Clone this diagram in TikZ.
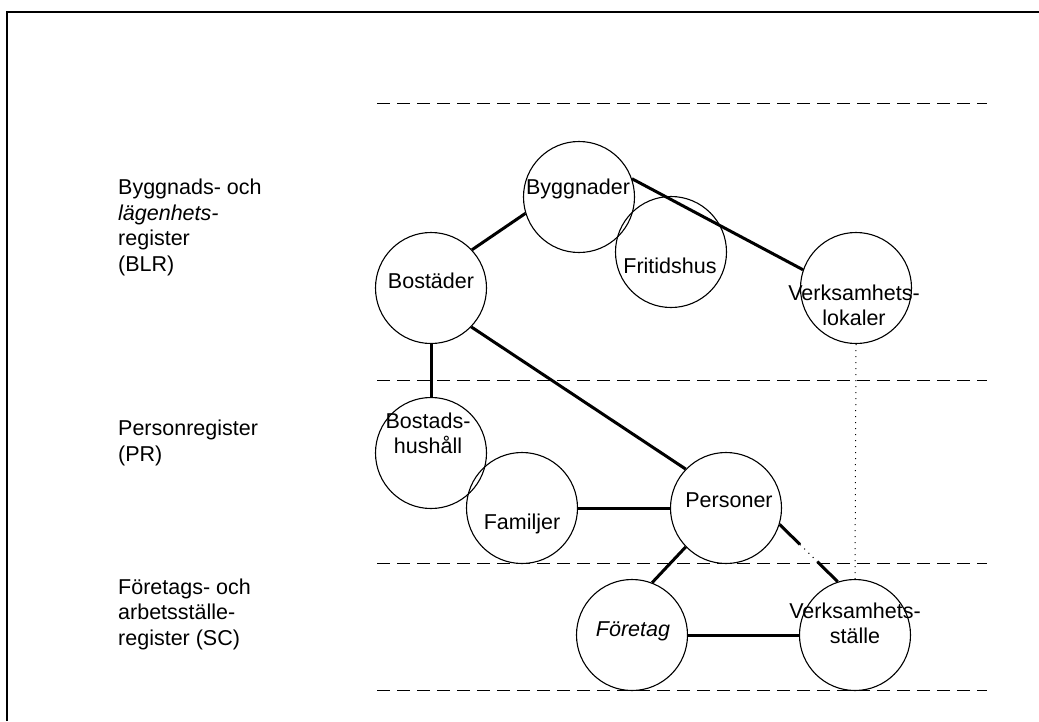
\documentclass[tikz,border=0pt]{standalone}
\usepackage{fontspec}
\setmainfont{Liberation Sans}
\usetikzlibrary{calc}

\tikzset{
  reg/.style={draw, circle, minimum size=111pt, inner sep=0pt, line width=1.1pt},
  lbl/.style={anchor=base, align=center, inner sep=0pt, font=\fontsize{21.5}{25}\selectfont},
  regname/.style={anchor=base west, align=left, inner sep=0pt, font=\fontsize{21.5}{25.5}\selectfont},
  regline/.style={line width=3pt},
  layerline/.style={line width=0.8pt, dash pattern=on 13pt off 7pt},
  dotline/.style={line width=1pt, dash pattern=on 1pt off 5pt}
}

\begin{document}
\begin{tikzpicture}[x=1pt, y=-1pt]
    \fill[white] (0,0) rectangle (1039,721);
    \useasboundingbox (0,0) rectangle (1039,721);
    % frame
    \draw[line width=1.4pt] (7,721) -- (7,12) -- (1039,12);
    \foreach \y in {103,380,563,690}
      \draw[layerline] (377,\y) -- (987,\y);

    % register names (base = last line)
    \node[regname] (blr) at (118,271) {Byggnads- och\\\textit{lägenhets-}\\register\\(BLR)};
    \node[regname] (pr) at (118,461) {Personregister\\(PR)};
    \node[regname] (sc) at (118,645) {Företags- och\\arbetsställe-\\register (SC)};

    % circles
    \node[reg] (bygg) at (579,197) {};
    \node[reg] (frit) at (671,252) {};
    \node[reg] (vlok) at (856,288) {};
    \node[reg] (bost) at (431,288) {};
    \node[reg] (hush) at (431,453) {};
    \node[reg] (fam) at (522,508) {};
    \node[reg] (pers) at (726,508) {};
    \node[reg] (fore) at (632,635) {};
    \node[reg] (vst) at (855,635) {};

    \node[lbl] (byggtxt) at (578,194) {Byggnader};
    \node[lbl] (frittxt) at (670,273) {Fritidshus};
    \node[lbl] (vloktxt) at (854,325) {Verksamhets-\\lokaler};
    \node[lbl] (bosttxt) at (431,288) {Bostäder};
    \node[lbl] (hushtxt) at (428,453) {Bostads-\\hushåll};
    \node[lbl] (famtxt) at (522,529) {Familjer};
    \node[lbl] (perstxt) at (729,507) {Personer};
    \node[lbl] (foretxt) at (633,636) {\textit{Företag}};
    \node[lbl] (vsttxt) at (855,643) {Verksamhets-\\ställe};

    % links
    \draw[regline] (bost.43) -- (bygg.197);
    \draw[regline] (bygg.19) -- (vlok.161);
    \draw[regline] (bost.316) -- (pers.136);
    \draw[regline] (bost.south) -- (hush.north);
    \draw[regline] (fam.east) -- (pers.west);
    \draw[regline] (pers.224) -- (fore.69);
    \draw[regline] (fore.east) -- (vst.west);
    \coordinate (gap1) at ($(pers.343)!0.35!(vst.108)$);
    \coordinate (gap2) at ($(pers.343)!0.65!(vst.108)$);
    \draw[regline] (pers.343) -- (gap1);
    \draw[dotline] (gap1) -- (gap2);
    \draw[regline] (gap2) -- (vst.108);
    \draw[dotline] (vlok.south) -- (vst.north);
\end{tikzpicture}
\end{document}
